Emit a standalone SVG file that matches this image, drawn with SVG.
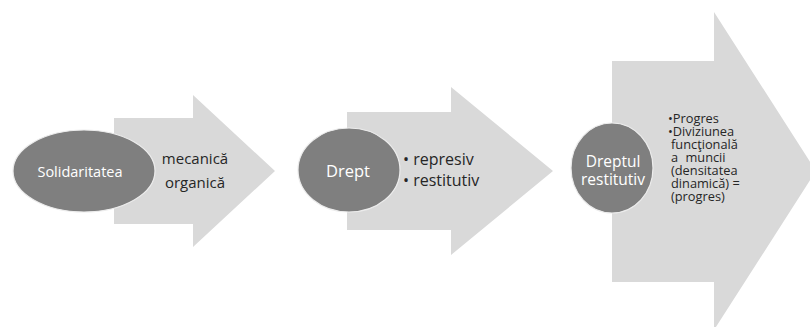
<svg xmlns="http://www.w3.org/2000/svg" width="810" height="327" viewBox="0 0 810 327">
<style>
.arrow{fill:#d9d9d9;stroke:none}
.oval{fill:#7f7f7f;stroke:#ececec;stroke-width:1.2}
.ot{font-family:"Open Sans","Liberation Sans",sans-serif;fill:#ffffff;text-anchor:middle}
.at{font-family:"Open Sans","Liberation Sans",sans-serif;fill:#262626}
.bt{font-family:"Open Sans","Liberation Sans",sans-serif;font-size:12.8px;fill:#262626}
</style>
<rect width="810" height="327" fill="#ffffff"/>
<g id="arrow1">
<polygon class="arrow" points="114,118 193,118 193,95 275,171 193,247 193,224 114,224"/>
<text class="at" x="195" y="164" font-size="15" text-anchor="middle">mecanică</text>
<text class="at" x="195" y="188" font-size="15" text-anchor="middle">organică</text>
</g>
<g id="arrow2">
<polygon class="arrow" points="347,112 451,112 451,87 553,171 451,255 451,230 347,230"/>
<text class="at" x="403" y="165" font-size="16">• represiv</text>
<text class="at" x="403" y="186" font-size="16">• restitutiv</text>
</g>
<g id="arrow3">
<polygon class="arrow" points="612,61 714,61 714,12 816,171 714,330 714,282 612,282"/>
<text class="bt"><tspan x="668" y="123">•Progres</tspan><tspan x="668" y="136">•Diviziunea</tspan><tspan x="671" y="149">funcţională</tspan><tspan x="671" y="162" word-spacing="4">a muncii</tspan><tspan x="671" y="175">(densitatea</tspan><tspan x="671" y="188">dinamică) =</tspan><tspan x="671" y="201">(progres)</tspan></text>
</g>
<g id="node1">
<ellipse class="oval" cx="84" cy="171" rx="71" ry="41"/>
<text class="ot" x="80" y="177" font-size="14.5">Solidaritatea</text>
</g>
<g id="node2">
<ellipse class="oval" cx="349" cy="170" rx="51" ry="42"/>
<text class="ot" x="348" y="177" font-size="16.5">Drept</text>
</g>
<g id="node3">
<ellipse class="oval" cx="612" cy="168" rx="41" ry="45"/>
<text class="ot" x="613" y="167" font-size="15.5">Dreptul</text>
<text class="ot" x="613" y="185" font-size="15.5">restitutiv</text>
</g>
<g id="connectors"></g>
</svg>
